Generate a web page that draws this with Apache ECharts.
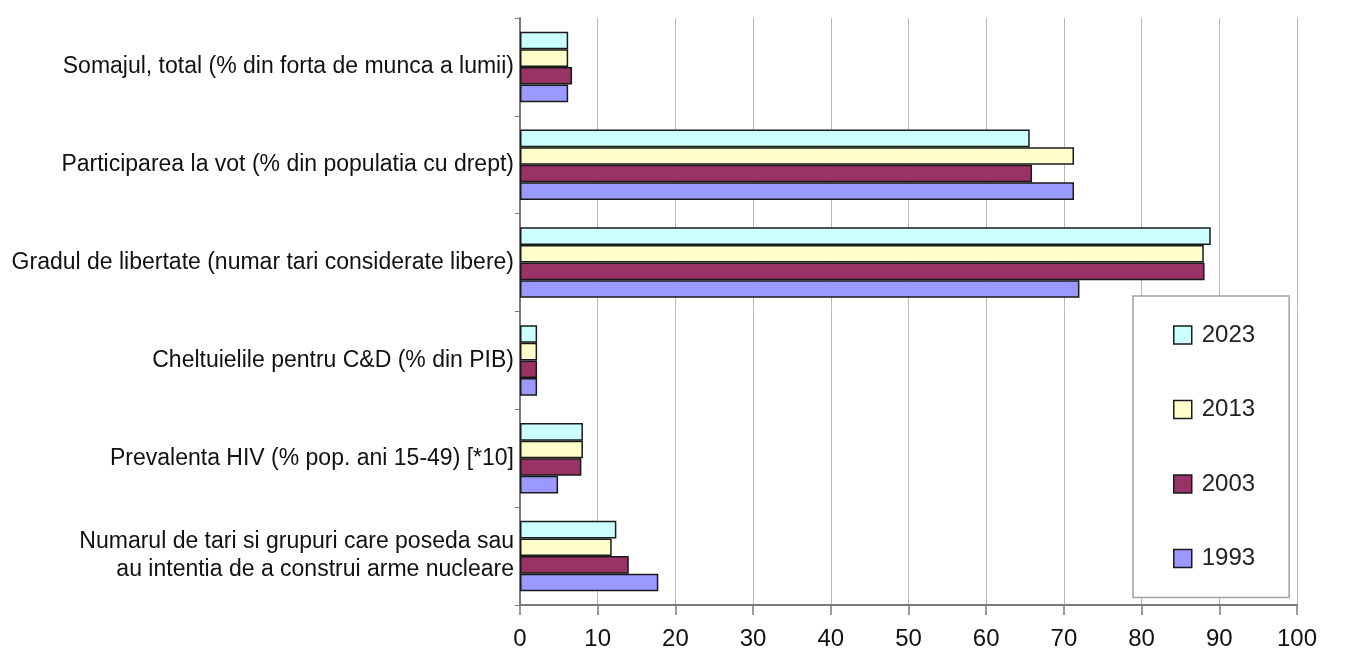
<!DOCTYPE html>
<html>
<head>
<meta charset="utf-8">
<script src="https://cdn.jsdelivr.net/npm/echarts@6/dist/echarts.min.js"></script>
<style>
html,body{margin:0;padding:0;background:#fff;}
#chart{width:1345px;height:660px;}
</style>
</head>
<body>
<div id="chart"></div>
<script>
var categories = [
  "Somajul, total (% din forta de munca a lumii)",
  "Participarea la vot (% din populatia cu drept)",
  "Gradul de libertate (numar tari considerate libere)",
  "Cheltuielile pentru C&D (% din PIB)",
  "Prevalenta HIV (% pop. ani 15-49) [*10]",
  "Numarul de tari si grupuri care poseda sau\nau intentia de a construi arme nucleare"
];
var years = ["2023", "2013", "2003", "1993"];
var v2023 = [6.2, 65.6, 88.9, 2.2, 8.1, 12.4];
var v2013 = [6.2, 71.3, 88.0, 2.2, 8.1, 11.8];
var v2003 = [6.7, 65.9, 88.1, 2.2, 7.9, 14.0];
var v1993 = [6.2, 71.3, 72.0, 2.2, 4.9, 17.8];
var xTicks = [0, 10, 20, 30, 40, 50, 60, 70, 80, 90, 100];

var colors = ["#CCFFFF", "#FFFFCC", "#993366", "#9999FF"];
var values = [v2023, v2013, v2003, v1993];

var chart = echarts.init(document.getElementById('chart'));
var font = "Arial, 'Liberation Sans', sans-serif";

var series = years.map(function (y, i) {
  return {
    name: y,
    type: 'bar',
    data: values[i],
    barGap: '0%',
    barCategoryGap: '28%',
    itemStyle: { color: colors[i], borderColor: '#1a1a1a', borderWidth: 1.5 },
    emphasis: { disabled: true }
  };
});

chart.setOption({
  animation: false,
  backgroundColor: '#ffffff',
  grid: { left: 520, right: 48, top: 18, bottom: 55, containLabel: false },
  xAxis: {
    type: 'value',
    min: xTicks[0],
    max: xTicks[xTicks.length - 1],
    interval: 10,
    axisLine: { show: true, lineStyle: { color: '#7a7a7a', width: 2 } },
    axisTick: { show: true, length: 10, lineStyle: { color: '#7a7a7a', width: 1.5 } },
    splitLine: { show: true, lineStyle: { color: '#b8b8b8', width: 1 } },
    axisLabel: { color: '#111', fontSize: 24, fontFamily: font, margin: 22 }
  },
  yAxis: {
    type: 'category',
    inverse: true,
    data: categories,
    axisLine: { show: true, lineStyle: { color: '#7a7a7a', width: 2 } },
    axisTick: { show: true, length: 5, lineStyle: { color: '#7a7a7a' } },
    axisLabel: { color: '#111', fontSize: 23, fontFamily: font, margin: 6, lineHeight: 28, align: 'right' }
  },
  legend: {
    orient: 'vertical',
    left: 1133,
    top: 296,
    padding: [27, 34, 27, 40],
    itemGap: 50.5,
    itemWidth: 18,
    itemHeight: 18,
    backgroundColor: '#ffffff',
    borderColor: '#a0a0a0',
    borderWidth: 1.5,
    borderRadius: 0,
    data: years.map(function (y, i) {
      return { name: y, icon: 'rect', itemStyle: { color: colors[i], borderColor: '#1a1a1a', borderWidth: 1.5 } };
    }),
    textStyle: { color: '#222', fontSize: 24, fontFamily: font, padding: [0, 0, 0, 5] }
  },
  series: series
});
</script>
</body>
</html>
